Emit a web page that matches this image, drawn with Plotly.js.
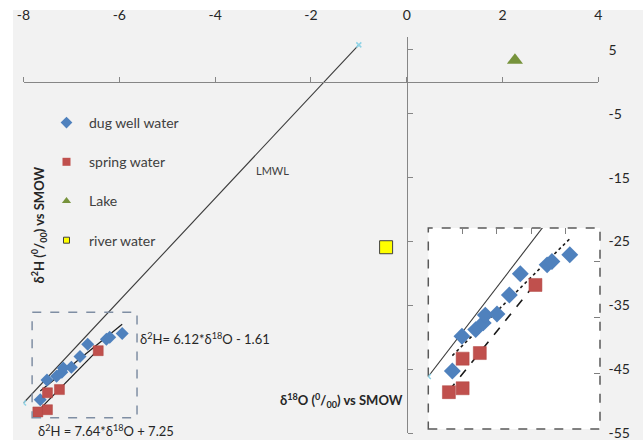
<!DOCTYPE html>
<html>
<head>
<meta charset="utf-8">
<script src="https://cdn.plot.ly/plotly-3.0.1.min.js"></script>
<style>html,body{margin:0;padding:0;background:#fff;}#chart{width:643px;height:440px;}</style>
</head>
<body>
<div id="chart"></div>
<script>
// ---- data ----
const seriesNames = ["dug well water", "spring water", "Lake", "river water"];
const dugX = [-7.65, -7.51, -7.31, -7.20, -7.17, -7.00, -6.82, -6.66, -6.27, -6.20, -5.94];
const dugY = [-49.8, -46.7, -46.1, -45.5, -44.8, -44.7, -43.0, -41.1, -40.3, -40.0, -39.4];
const springX = [-7.70, -7.50, -7.50, -7.25, -6.44];
const springY = [-51.7, -51.35, -48.7, -48.2, -42.1];
const lakeX = [2.26];
const lakeY = [3.4];
const riverX = [-0.43];
const riverY = [-25.9];
const lmwlX = [-8.0, -1.0];
const lmwlY = [-50.3, 5.8];
const dugTrend = {slope: 6.12, intercept: -1.61};
const springTrend = {slope: 7.64, intercept: 7.25};
const xTickVals = [-8, -6, -4, -2, 0, 2, 4];
const xTickText = ["-8", "-6", "-4", "-2", "0", "2", "4"];
const yTickVals = [5, -5, -15, -25, -35, -45, -55];
const yTickText = ["5", "-5", "-15", "-25", "-35", "-45", "-55"];

function trendLine(xs, t) {
  const lo = Math.min(...xs), hi = Math.max(...xs);
  return {x: [lo, hi], y: [t.slope * lo + t.intercept, t.slope * hi + t.intercept]};
}
const dugT = trendLine(dugX, dugTrend);
const springT = trendLine(springX, springTrend);

const BLUE = '#4f81bd', RED = '#c0504d', GREEN = '#77933c', YEL = '#ffff00';
const FONT = 'Lato, "Open Sans", sans-serif';

function sets(ax, ay, big) {
  return [
    {x: lmwlX, y: lmwlY, mode: 'lines+markers', line: {color: '#3a3a3a', width: 1.1},
     marker: {symbol: 'x-thin', size: 5, line: {color: '#8fd3e6', width: 1.5}, color: '#8fd3e6'},
     showlegend: false, xaxis: ax, yaxis: ay},
    {x: dugT.x, y: dugT.y, mode: 'lines', line: {color: '#1a1a1a', width: big ? 1.6 : 1.2, dash: big ? 'dot' : 'solid'},
     showlegend: false, xaxis: ax, yaxis: ay},
    {x: springT.x, y: springT.y, mode: 'lines', line: {color: '#1a1a1a', width: big ? 1.6 : 1.2, dash: big ? 'dash' : 'solid'},
     showlegend: false, xaxis: ax, yaxis: ay},
    {x: dugX, y: dugY, mode: 'markers', name: seriesNames[0],
     marker: {symbol: 'diamond', size: big ? 13 : 10, color: BLUE}, showlegend: false, xaxis: ax, yaxis: ay},
    {x: springX, y: springY, mode: 'markers', name: seriesNames[1],
     marker: {symbol: 'square', size: big ? 13 : 10, color: RED, line: {color: '#b04440', width: 0.5}}, showlegend: false, xaxis: ax, yaxis: ay}
  ];
}

const legendOnly = [
  {name: seriesNames[0], legendgroup: 'a', marker: {symbol: 'diamond', size: 9, color: BLUE}},
  {name: seriesNames[1], legendgroup: 'b', marker: {symbol: 'square', size: 8, color: RED}},
  {name: seriesNames[2], legendgroup: 'c', marker: {symbol: 'triangle-up', size: 8, color: GREEN}},
  {name: seriesNames[3], legendgroup: 'd', marker: {symbol: 'square', size: 6, color: YEL, line: {color: '#404040', width: 1}}}
].map(t => Object.assign({x: [null], y: [null], mode: 'markers', showlegend: true, xaxis: 'x', yaxis: 'y'}, t));

const traces = [
  ...sets('x', 'y', false),
  {x: lakeX, y: lakeY, mode: 'markers', name: seriesNames[2], showlegend: false,
   marker: {symbol: 'triangle-up', size: 14, color: GREEN}, xaxis: 'x', yaxis: 'y'},
  {x: riverX, y: riverY, mode: 'markers', name: seriesNames[3], showlegend: false,
   marker: {symbol: 'square', size: 13, color: YEL, line: {color: '#404040', width: 1}}, xaxis: 'x', yaxis: 'y'},
  ...sets('x2', 'y2', true),
  ...legendOnly
];

const W = 643, H = 440;
const px = v => v / W, py = v => (H - v) / H;

const layout = {
  width: W, height: H, autosize: false,
  margin: {l: 0, r: 0, t: 0, b: 0, pad: 0},
  paper_bgcolor: '#ffffff', plot_bgcolor: 'rgba(0,0,0,0)',
  font: {family: FONT, size: 13, color: '#262626'},
  hovermode: false,
  showlegend: true,
  legend: {x: px(44), y: py(107), xanchor: 'left', yanchor: 'top', bgcolor: 'rgba(0,0,0,0)',
           font: {family: FONT, size: 14, color: '#404040'}, tracegroupgap: 18, itemwidth: 35,
           traceorder: 'grouped'},
  xaxis: {domain: [px(23.5), px(598.3)], range: [-8, 4], anchor: 'free', position: py(81.9), side: 'top',
          showline: true, linecolor: '#868686', linewidth: 1, ticks: 'outside', ticklen: 5, tickcolor: '#868686',
          tickvals: xTickVals, ticktext: xTickText, showgrid: false, zeroline: false, ticklabelstandoff: 51,
          ticklabeloverflow: 'allow', tickfont: {size: 14, color: '#262626'}},
  yaxis: {domain: [py(433), py(37.2)], range: [-55, 7], anchor: 'free', position: px(406.7), side: 'right',
          showline: true, linecolor: '#868686', linewidth: 1, ticks: 'outside', ticklen: 5, tickcolor: '#868686',
          tickvals: yTickVals, ticktext: yTickText, showgrid: false, zeroline: false, ticklabelstandoff: 193,
          ticklabeloverflow: 'allow', tickfont: {size: 14, color: '#262626'}},
  xaxis2: {domain: [px(428.3), px(600)], range: [-8, -5.5], anchor: 'y2', side: 'top',
           showline: false, ticks: 'inside', ticklen: 6, tickcolor: '#7f7f7f', dtick: 0.5, tick0: -8,
           showticklabels: false, showgrid: false, zeroline: false},
  yaxis2: {domain: [py(429), py(228)], range: [-55, -37], anchor: 'x2', side: 'right',
           showline: false, ticks: 'inside', ticklen: 6, tickcolor: '#7f7f7f', dtick: 5, tick0: -55,
           showticklabels: false, showgrid: false, zeroline: false},
  shapes: [
    {type: 'rect', xref: 'paper', yref: 'paper', x0: px(13), x1: 1.01, y0: -0.01, y1: py(10),
     fillcolor: '#f2f2f2', line: {width: 0}, layer: 'below'},
    {type: 'rect', xref: 'x2 domain', yref: 'y2 domain', x0: 0, x1: 1, y0: 0, y1: 1,
     fillcolor: '#ffffff', line: {color: '#595959', width: 1.5, dash: 'dash'}, layer: 'below'},
    {type: 'rect', xref: 'x', yref: 'y', x0: -7.82, x1: -5.63, y0: -52.6, y1: -36.1,
     fillcolor: 'rgba(0,0,0,0)', line: {color: '#7f8ea3', width: 1.5, dash: 'dash'}, layer: 'above'}
  ],
  annotations: [
    {xref: 'paper', yref: 'paper', x: px(341), y: py(412), text: '<b>δ<sup>18</sup>O (<sup>0</sup>/<sub>00</sub>) vs SMOW</b>',
     showarrow: false, font: {size: 13, color: '#262626'}},
    {xref: 'paper', yref: 'paper', x: px(27), y: py(225), text: '<b>δ<sup>2</sup>H (<sup>0</sup>/<sub>00</sub>) vs SMOW</b>',
     showarrow: false, textangle: -90, font: {size: 13, color: '#262626'}},
    {xref: 'paper', yref: 'paper', x: px(138), y: py(349), xanchor: 'left', text: 'δ<sup>2</sup>H= 6.12*δ<sup>18</sup>O - 1.61',
     showarrow: false, font: {size: 13, color: '#262626'}},
    {xref: 'paper', yref: 'paper', x: px(36), y: py(441), xanchor: 'left', text: 'δ<sup>2</sup>H = 7.64*δ<sup>18</sup>O + 7.25',
     showarrow: false, font: {size: 13, color: '#262626'}},
    {xref: 'paper', yref: 'paper', x: px(272), y: py(170), text: 'LMWL',
     showarrow: false, font: {size: 11, color: '#404040'}}
  ]
};

Plotly.newPlot('chart', traces, layout, {displayModeBar: false, staticPlot: true});
</script>
</body>
</html>
